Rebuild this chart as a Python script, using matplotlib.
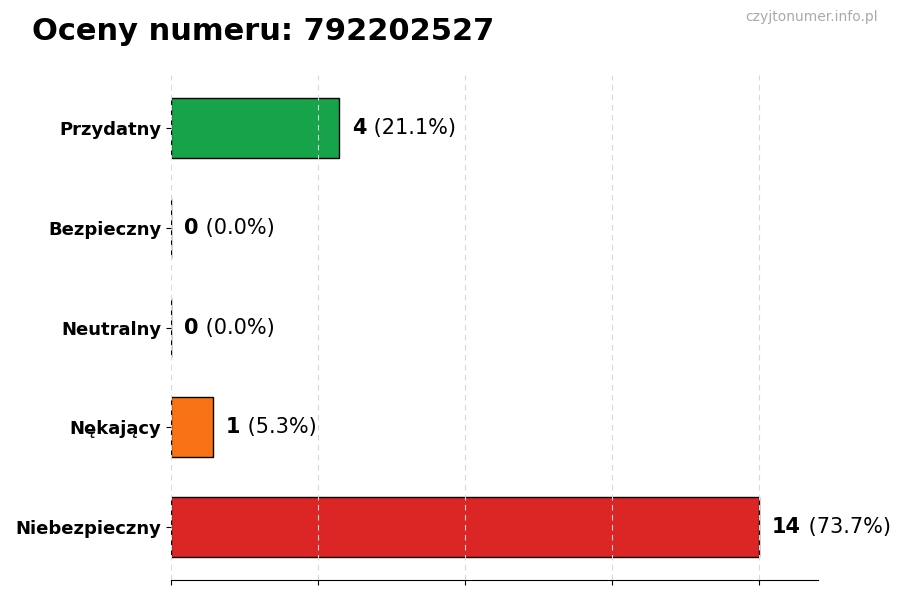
import matplotlib
matplotlib.use("Agg")
import matplotlib.pyplot as plt

categories = ["Niebezpieczny", "Nękający", "Neutralny", "Bezpieczny", "Przydatny"]
counts = [14, 1, 0, 0, 4]
percents = [73.7, 5.3, 0.0, 0.0, 21.1]
colors = ["#dc2626", "#f97316", "#9ca3af", "#3b82f6", "#16a34a"]
title = "Oceny numeru: 792202527"
watermark = "czyjtonumer.info.pl"

fig = plt.figure(figsize=(9, 6), dpi=100)
ax = fig.add_axes([0.19, 0.0333, 0.719, 0.8417])

ypos = list(range(len(categories)))
ax.barh(ypos, counts, height=0.6, color=colors, edgecolor="black", linewidth=1, zorder=2)
ax.set_yticks(ypos)
ax.set_yticklabels(categories, fontsize=13, fontweight="bold")
ax.set_xlim(0, max(counts) * 1.1)
ax.set_xticks([0, 3.5, 7, 10.5, 14])
ax.set_xticklabels([])
ax.grid(axis="x", linestyle=(0, (5, 4)), color="#d8d8d8", linewidth=0.8, zorder=3)
ax.set_axisbelow(False)
for s in ["top", "right", "left"]:
    ax.spines[s].set_visible(False)

off = max(counts) * 0.0215
for y, c, p in zip(ypos, counts, percents):
    t = ax.text(c + off, y, f"{c}", fontsize=15, fontweight="bold", va="center", ha="left", zorder=4)
    ax.annotate(f" ({p:.1f}%)", xycoords=t, xy=(1, 0.5), xytext=(0.7, 0), textcoords="offset points",
                va="center", ha="left", fontsize=15, zorder=4)

fig.text(0.036, 0.948, title, fontsize=22, fontweight="bold", va="center", ha="left")
fig.text(0.975, 0.971, watermark, fontsize=10, color="#aaaaaa", va="center", ha="right")

fig.savefig("out.png", dpi=100)
